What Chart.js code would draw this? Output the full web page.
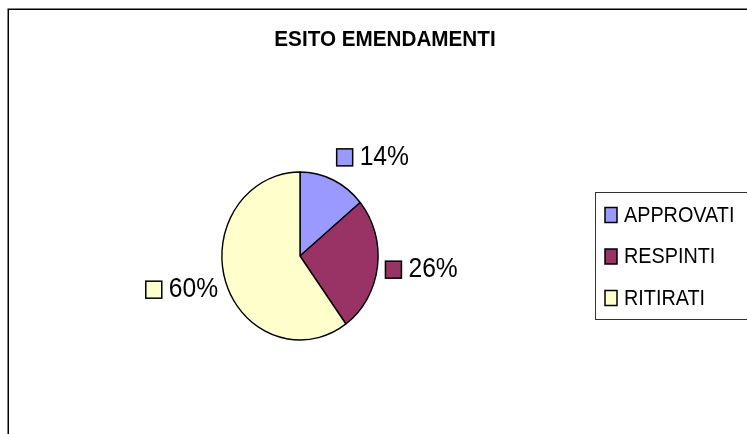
<!DOCTYPE html>
<html>
<head>
<meta charset="utf-8">
<script src="https://cdn.jsdelivr.net/npm/chart.js"></script>
<style>
  body { margin: 0; background: #fff; }
  canvas { display: block; }
</style>
</head>
<body>
<canvas id="chart-esito" width="747" height="434"></canvas>
<script>
// dati del grafico
const titolo = 'ESITO EMENDAMENTI';
const categorie = ['APPROVATI', 'RESPINTI', 'RITIRATI'];
const percentuali = [14, 26, 60];
const colori = ['#9999FF', '#993366', '#FFFFCC'];

// la torta originale e' leggermente schiacciata in orizzontale
const schiacciaX = 0.93;

// testo con compressione orizzontale (il font originale e' piu' stretto)
function scriviTesto(ctx, testo, x, y, font, sx, align) {
  ctx.save();
  ctx.font = font;
  ctx.textAlign = align || 'left';
  ctx.textBaseline = 'middle';
  ctx.fillStyle = '#000';
  ctx.translate(x, y);
  ctx.scale(sx, 1);
  ctx.fillText(testo, 0, 0);
  ctx.restore();
}

function larghezzaTesto(ctx, testo, font, sx) {
  ctx.save();
  ctx.font = font;
  const w = ctx.measureText(testo).width * sx;
  ctx.restore();
  return w;
}

function quadratino(ctx, x, y, w, h, colore) {
  ctx.save();
  ctx.fillStyle = colore;
  ctx.fillRect(x, y, w, h);
  ctx.strokeStyle = '#000';
  ctx.lineWidth = 1.5;
  ctx.strokeRect(x, y, w, h);
  ctx.restore();
}

const cornice = {
  id: 'cornice',
  beforeDraw(chart) {
    const ctx = chart.ctx;
    ctx.save();
    ctx.fillStyle = '#fff';
    ctx.fillRect(0, 0, chart.width, chart.height);
    ctx.strokeStyle = '#000';
    ctx.lineWidth = 1.5;
    ctx.strokeRect(8.25, 9.25, chart.width + 20, chart.height + 20);
    ctx.restore();
    // titolo compresso come nell'originale
    scriviTesto(ctx, titolo, 385, 40, 'bold 22px "Liberation Sans", Arial, sans-serif', 0.94, 'center');
  }
};

const ellisse = {
  id: 'ellisse',
  beforeDatasetsDraw(chart) {
    const arco = chart.getDatasetMeta(0).data[0];
    const ctx = chart.ctx;
    ctx.save();
    ctx.translate(arco.x, 0);
    ctx.scale(schiacciaX, 1);
    ctx.translate(-arco.x, 0);
  },
  afterDatasetsDraw(chart) {
    chart.ctx.restore();
  }
};

const etichette = {
  id: 'etichette',
  afterDraw(chart) {
    const ctx = chart.ctx;
    const meta = chart.getDatasetMeta(0);
    const font = '28px "Liberation Sans", Arial, sans-serif';
    const sx = 0.88;
    const box = 16, gap = 7, h = 34, distanza = 8;
    meta.data.forEach((arco, i) => {
      const a = (arco.startAngle + arco.endAngle) / 2;
      const r = arco.outerRadius;
      const ax = arco.x + (r * schiacciaX + distanza) * Math.cos(a);
      const ay = arco.y + (r + distanza) * Math.sin(a);
      const testo = percentuali[i] + '%';
      const w = box + gap + larghezzaTesto(ctx, testo, font, sx);
      const cxl = ax + Math.sign(Math.cos(a)) * w / 2;
      const cyl = ay + Math.sin(a) * h / 2;
      const left = cxl - w / 2;
      quadratino(ctx, left, cyl - box / 2 - 0.5, box, box + 1, colori[i]);
      scriviTesto(ctx, testo, left + box + gap, cyl, font, sx, 'left');
    });
  }
};

const legenda = {
  id: 'legenda',
  afterDraw(chart) {
    const ctx = chart.ctx;
    const x0 = 595.5, y0 = 192.5, y1 = 319.5;
    ctx.save();
    ctx.strokeStyle = '#333';
    ctx.lineWidth = 1;
    ctx.strokeRect(x0, y0, chart.width, y1 - y0);
    ctx.restore();
    const font = '22px "Liberation Sans", Arial, sans-serif';
    const passo = 41.5;
    chart.data.labels.forEach((lab, i) => {
      const y = 215 + i * passo;
      quadratino(ctx, 605, y - 7.5, 12, 15, colori[i]);
      scriviTesto(ctx, lab, 624, y + 0.5, font, 0.9, 'left');
    });
  }
};

new Chart(document.getElementById('chart-esito').getContext('2d'), {
  type: 'pie',
  data: {
    labels: categorie,
    datasets: [{
      data: percentuali,
      backgroundColor: colori,
      borderColor: '#000',
      borderWidth: 1.5,
      radius: 84,
      hoverOffset: 0
    }]
  },
  options: {
    responsive: false,
    animation: false,
    events: [],
    layout: { padding: { left: 60, right: 207, top: 90, bottom: 12 } },
    plugins: {
      legend: { display: false },
      tooltip: { enabled: false },
      title: { display: false }
    }
  },
  plugins: [cornice, ellisse, etichette, legenda]
});
</script>
</body>
</html>
